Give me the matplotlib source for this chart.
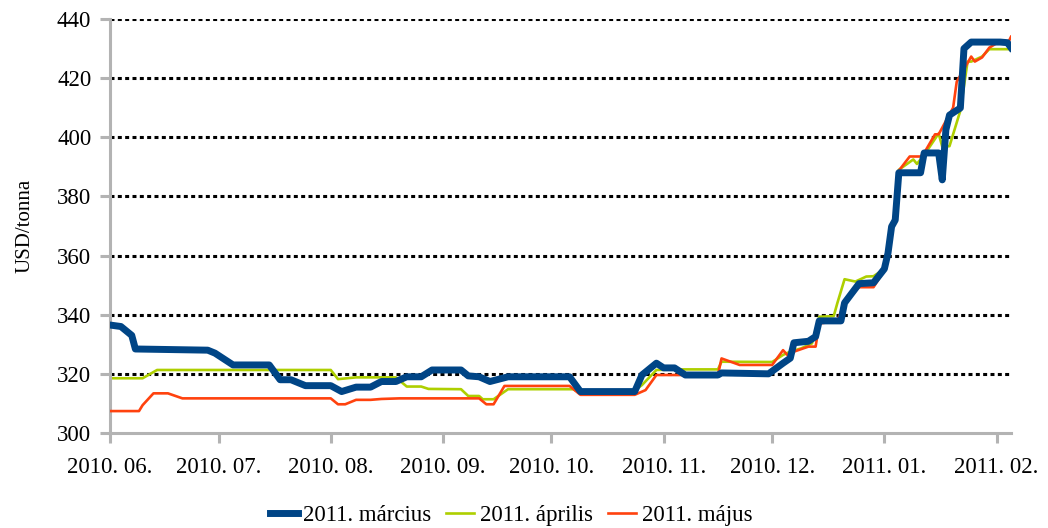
import numpy as np
import pandas as pd
import matplotlib
matplotlib.use("Agg")
import matplotlib.pyplot as plt
import matplotlib.dates as mdates

plt.rcParams['font.family'] = ['Liberation Serif', 'DejaVu Serif']

# 2011. március (blue, thick)
marc_dates = ["2010-06-01", "2010-06-04", "2010-06-07", "2010-06-08", "2010-06-28", "2010-06-30",
              "2010-07-05", "2010-07-15", "2010-07-18", "2010-07-21", "2010-07-25", "2010-08-01",
              "2010-08-04", "2010-08-08", "2010-08-12", "2010-08-15", "2010-08-19", "2010-08-22",
              "2010-08-26", "2010-08-29", "2010-09-06", "2010-09-08", "2010-09-11", "2010-09-14",
              "2010-09-19", "2010-10-06", "2010-10-09", "2010-10-24", "2010-10-26", "2010-10-30",
              "2010-11-01", "2010-11-04", "2010-11-07", "2010-11-16", "2010-11-17", "2010-11-30",
              "2010-12-04", "2010-12-06", "2010-12-07", "2010-12-11", "2010-12-13", "2010-12-14",
              "2010-12-20", "2010-12-21", "2010-12-25", "2010-12-29", "2011-01-01", "2011-01-02",
              "2011-01-03", "2011-01-04", "2011-01-05", "2011-01-11", "2011-01-12", "2011-01-16",
              "2011-01-17", "2011-01-18", "2011-01-19", "2011-01-22", "2011-01-23", "2011-01-25",
              "2011-02-02", "2011-02-04", "2011-02-05"]
marc_vals = [336.5, 336, 333, 328.4, 328, 327,
             323, 323, 318, 318, 316, 316,
             314, 315.5, 315.5, 317.4, 317.4, 319,
             319, 321.3, 321.3, 319.3, 319, 317.4,
             319, 319, 314, 314, 319.6, 323.6,
             322, 322, 319.6, 319.6, 320.3, 320,
             323.6, 325.3, 330.5, 331, 332.6, 337.9,
             337.9, 344, 350.5, 350.8, 355.5, 360.8,
             369.8, 372, 388, 388, 394.7, 394.7,
             385.6, 402.5, 407.5, 409.9, 430, 432.2,
             432.2, 432, 430.3]

# 2011. április (green)
apr_dates = ["2010-06-01", "2010-06-10", "2010-06-14", "2010-08-01", "2010-08-03", "2010-08-08",
             "2010-08-19", "2010-08-22", "2010-08-26", "2010-08-28", "2010-09-06", "2010-09-08",
             "2010-09-11", "2010-09-12", "2010-09-15", "2010-09-19", "2010-10-07", "2010-10-09",
             "2010-10-23", "2010-10-26", "2010-10-30", "2010-11-05", "2010-11-16", "2010-11-17",
             "2010-12-01", "2010-12-04", "2010-12-06", "2010-12-09", "2010-12-12", "2010-12-14",
             "2010-12-18", "2010-12-19", "2010-12-21", "2010-12-24", "2010-12-27", "2010-12-29",
             "2011-01-01", "2011-01-02", "2011-01-03", "2011-01-04", "2011-01-05", "2011-01-09",
             "2011-01-10", "2011-01-12", "2011-01-16", "2011-01-17", "2011-01-19", "2011-01-22",
             "2011-01-24", "2011-01-25", "2011-01-28", "2011-01-30", "2011-02-05"]
apr_vals = [318.5, 318.5, 321.3, 321.3, 318.2, 318.8,
            318.8, 315.7, 315.7, 314.9, 314.8, 312.5,
            312.5, 311.4, 311.4, 314.8, 314.8, 313.5,
            313.5, 316.2, 321.3, 321.5, 321.5, 324.1,
            324, 326.4, 327.5, 328.6, 330.3, 339.3,
            339.5, 343.9, 352, 351.2, 352.9, 353,
            355.5, 360.8, 369.8, 372, 389, 392.5,
            391, 394, 401.3, 396.8, 397, 409,
            425.6, 425.6, 427.3, 429.8, 429.8]

# 2011. május (red)
maj_dates = ["2010-06-01", "2010-06-09", "2010-06-10", "2010-06-13", "2010-06-17", "2010-06-21",
             "2010-08-01", "2010-08-03", "2010-08-05", "2010-08-08", "2010-08-12", "2010-08-15",
             "2010-08-20", "2010-09-11", "2010-09-13", "2010-09-15", "2010-09-18", "2010-10-06",
             "2010-10-09", "2010-10-24", "2010-10-27", "2010-10-30", "2010-11-16", "2010-11-17",
             "2010-11-22", "2010-12-01", "2010-12-04", "2010-12-06", "2010-12-07", "2010-12-11",
             "2010-12-13", "2010-12-14", "2010-12-19", "2010-12-21", "2010-12-25", "2010-12-29",
             "2011-01-01", "2011-01-02", "2011-01-03", "2011-01-04", "2011-01-05", "2011-01-08",
             "2011-01-11", "2011-01-12", "2011-01-15", "2011-01-16", "2011-01-20", "2011-01-21",
             "2011-01-25", "2011-01-26", "2011-01-28", "2011-01-30", "2011-02-01", "2011-02-04",
             "2011-02-05"]
maj_vals = [307.4, 307.4, 309.4, 313.4, 313.4, 311.7,
            311.7, 309.7, 309.7, 311.2, 311.2, 311.5,
            311.7, 311.7, 309.7, 309.7, 315.9, 315.9,
            312.9, 312.9, 314.5, 319.6, 319.6, 325.2,
            323, 323, 328, 325.3, 327.5, 329.2,
            329.2, 337, 337.9, 344, 349.3, 349.3,
            355, 360.8, 369.8, 372, 388.7, 393.5,
            393.5, 394.7, 401, 401, 410, 418.8,
            427.3, 425.6, 427, 430.3, 431.8, 431.5,
            434]

c_blue = "#004586"
c_green = "#aecf00"
c_red = "#ff420e"
grey = "#b3b3b3"

fig = plt.figure(figsize=(10.48, 5.28), dpi=100)
ax = fig.add_axes([0.105, 0.18, 0.8597, 0.784])

for y in [320, 340, 360, 380, 400, 420, 440]:
    ax.axhline(y, color="black", lw=2.2, dashes=(1.3, 1.1), zorder=1)

ax.plot(pd.to_datetime(apr_dates), apr_vals, color=c_green, lw=1.9, label="2011. április", zorder=2)
ax.plot(pd.to_datetime(maj_dates), maj_vals, color=c_red, lw=1.9, label="2011. május", zorder=3)
ax.plot(pd.to_datetime(marc_dates), marc_vals, color=c_blue, lw=5, label="2011. március",
        zorder=4, solid_joinstyle="round")

ax.set_xlim(pd.Timestamp("2010-06-01"), pd.Timestamp("2011-02-05"))
ax.set_ylim(300, 440)
ax.set_yticks(np.arange(300, 441, 20))
ax.xaxis.set_major_locator(mdates.MonthLocator())
ax.xaxis.set_major_formatter(mdates.DateFormatter("%Y. %m."))

for s in ["top", "right"]:
    ax.spines[s].set_visible(False)
for s in ["left", "bottom"]:
    ax.spines[s].set_color(grey)
    ax.spines[s].set_linewidth(2.2)
ax.tick_params(axis="both", colors=grey, width=2.2, length=7.5, labelsize=16.5, labelcolor="black")
ax.tick_params(axis="x", pad=10)
ax.tick_params(axis="y", pad=6)
ax.set_ylabel("USD/tonna", fontsize=15, labelpad=16)

h, l = ax.get_legend_handles_labels()
order = [2, 0, 1]
ax.legend([h[i] for i in order], [l[i] for i in order], loc="center", bbox_to_anchor=(0.445, -0.2),
          ncol=3, frameon=False, fontsize=16.5, handlelength=1.22, handletextpad=0.25,
          columnspacing=0.65)

fig.savefig("out.png", dpi=100)
